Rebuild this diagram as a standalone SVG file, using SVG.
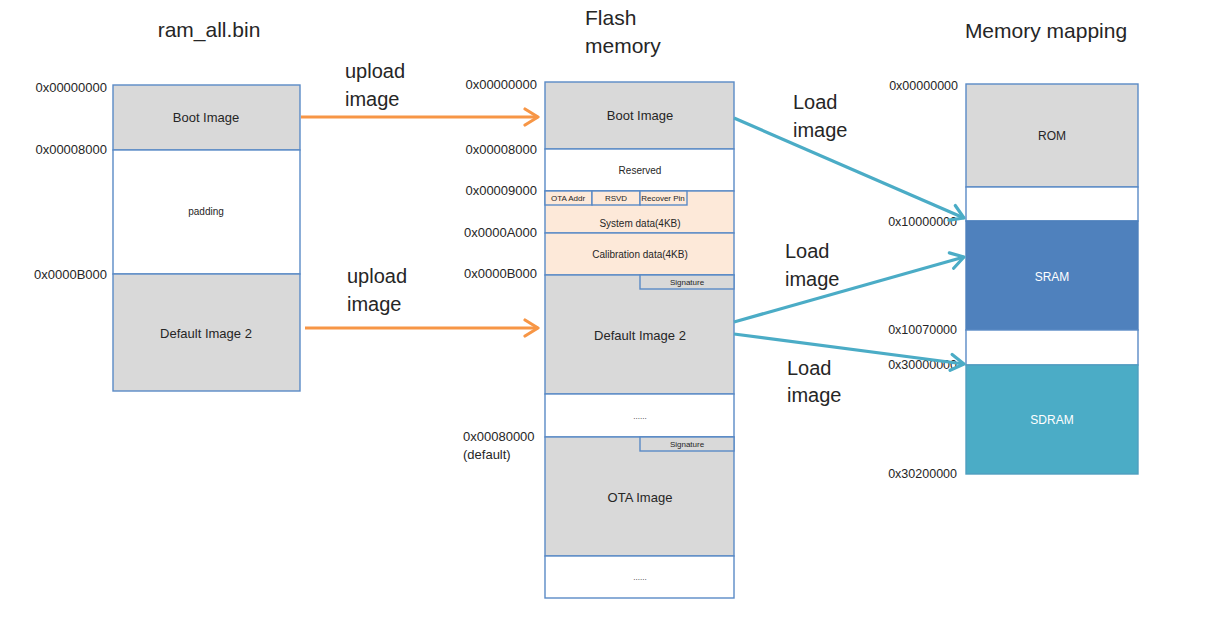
<svg xmlns="http://www.w3.org/2000/svg" width="1211" height="622" viewBox="0 0 1211 622">
<defs>
<marker id="ao" markerUnits="userSpaceOnUse" markerWidth="20" markerHeight="24" refX="15" refY="10" orient="auto" viewBox="0 0 20 20">
<path d="M2,2 L15,10 L2,18" fill="none" stroke="#f79646" stroke-width="3.2" stroke-linecap="round" stroke-linejoin="round"/>
</marker>
<marker id="at" markerUnits="userSpaceOnUse" markerWidth="20" markerHeight="24" refX="15" refY="10" orient="auto" viewBox="0 0 20 20">
<path d="M2,2 L15,10 L2,18" fill="none" stroke="#4bacc6" stroke-width="3.2" stroke-linecap="round" stroke-linejoin="round"/>
</marker>
</defs>
<style>
text{font-family:"Liberation Sans",Arial,sans-serif;fill:#262626}
.t{font-size:21px}
.lb{font-size:20px}
.ad{font-size:13px;text-anchor:end}
.adr{font-size:12.5px;text-anchor:end}
.c{text-anchor:middle}
.b{stroke:#5a8ac6;stroke-width:1.4}
.g{fill:#d9d9d9}
.w{fill:#ffffff}
.p{fill:#fde9d9}
.n13{font-size:13px}
.n10{font-size:10px}
.n8{font-size:8px}
.ao{fill:none;stroke:#f79646;stroke-width:3.2}
.at{fill:none;stroke:#4bacc6;stroke-width:3.2}
</style>
<rect width="1211" height="622" fill="#ffffff"/>

<g id="titles">
<text class="t c" x="209" y="37">ram_all.bin</text>
<text class="t" x="585" y="25">Flash</text>
<text class="t" x="585" y="53">memory</text>
<text class="t c" x="1046" y="38">Memory mapping</text>
</g>

<g id="ram_all">
<rect id="r-boot" class="b g" x="113" y="85" width="187" height="65"/>
<rect id="r-pad" class="b w" x="113" y="150" width="187" height="124"/>
<rect id="r-def" class="b g" x="113" y="274" width="187" height="117"/>
<text class="n13 c" x="206" y="122">Boot Image</text>
<text class="n10 c" x="206" y="215">padding</text>
<text class="n13 c" x="206" y="338">Default Image 2</text>
<text class="ad" x="107" y="92">0x00000000</text>
<text class="ad" x="107" y="154">0x00008000</text>
<text class="ad" x="107" y="279">0x0000B000</text>
</g>

<g id="flash">
<rect class="b g" x="545" y="82" width="189" height="67"/>
<rect class="b w" x="545" y="149" width="189" height="42"/>
<rect class="b p" x="545" y="191" width="189" height="42"/>
<rect class="b p" x="545" y="191" width="47" height="14"/>
<rect class="b p" x="592" y="191" width="48" height="14"/>
<rect class="b p" x="640" y="191" width="47" height="14"/>
<rect class="b p" x="545" y="233" width="189" height="42"/>
<rect class="b g" x="545" y="275" width="189" height="119"/>
<rect class="b g" x="640" y="275" width="94" height="14"/>
<rect class="b w" x="545" y="394" width="189" height="43"/>
<rect class="b g" x="545" y="437" width="189" height="119"/>
<rect class="b g" x="640" y="437" width="94" height="14"/>
<rect class="b w" x="545" y="556" width="189" height="42"/>
<text class="n13 c" x="640" y="120">Boot Image</text>
<text class="n10 c" x="640" y="174">Reserved</text>
<text class="n8 c" x="568" y="201">OTA Addr</text>
<text class="n8 c" x="616" y="201">RSVD</text>
<text class="n8 c" x="663" y="201">Recover Pin</text>
<text class="n10 c" x="640" y="227">System data(4KB)</text>
<text class="n10 c" x="640" y="258">Calibration data(4KB)</text>
<text class="n8 c" x="687" y="285">Signature</text>
<text class="n13 c" x="640" y="340">Default Image 2</text>
<text class="n8 c" x="640" y="419">......</text>
<text class="n8 c" x="687" y="447">Signature</text>
<text class="n13 c" x="640" y="502">OTA Image</text>
<text class="n8 c" x="640" y="580">......</text>
<text class="ad" x="537" y="89">0x00000000</text>
<text class="ad" x="537" y="154">0x00008000</text>
<text class="ad" x="537" y="195">0x00009000</text>
<text class="ad" x="537" y="237">0x0000A000</text>
<text class="ad" x="537" y="278">0x0000B000</text>
<text class="n13" x="463" y="441">0x00080000</text>
<text class="n13" x="463" y="459">(default)</text>
</g>

<g id="memmap">
<rect class="b g" x="966" y="84" width="172" height="103"/>
<rect class="b w" x="966" y="187" width="172" height="34"/>
<rect x="966" y="221" width="172" height="109" fill="#4f81bd" stroke="#4f81bd" stroke-width="1.4"/>
<rect class="b w" x="966" y="330" width="172" height="35"/>
<rect x="966" y="365" width="172" height="109" fill="#4bacc6" stroke="#4f9fbf" stroke-width="1.4"/>
<text class="c" x="1052" y="140" font-size="12">ROM</text>
<text class="c" x="1052" y="281" font-size="12" style="fill:#ffffff">SRAM</text>
<text class="c" x="1052" y="424" font-size="12" style="fill:#ffffff">SDRAM</text>
<text class="adr" x="958" y="90">0x00000000</text>
<text class="adr" x="957" y="226">0x10000000</text>
<text class="adr" x="957" y="334">0x10070000</text>
<text class="adr" x="957" y="369">0x30000000</text>
<text class="adr" x="957" y="478">0x30200000</text>
</g>

<g id="connectors">
<line class="ao" x1="301" y1="117" x2="538" y2="117" marker-end="url(#ao)"/>
<line class="ao" x1="305" y1="328" x2="538" y2="328" marker-end="url(#ao)"/>
<line class="at" x1="734" y1="118" x2="964" y2="218" marker-end="url(#at)"/>
<line class="at" x1="734" y1="322" x2="964" y2="257" marker-end="url(#at)"/>
<line class="at" x1="734" y1="334" x2="964" y2="364" marker-end="url(#at)"/>
<text class="lb" x="345" y="78">upload</text>
<text class="lb" x="345" y="106">image</text>
<text class="lb" x="347" y="283">upload</text>
<text class="lb" x="347" y="311">image</text>
<text class="lb" x="793" y="109">Load</text>
<text class="lb" x="793" y="137">image</text>
<text class="lb" x="785" y="258">Load</text>
<text class="lb" x="785" y="286">image</text>
<text class="lb" x="787" y="375">Load</text>
<text class="lb" x="787" y="402">image</text>
</g>
</svg>
